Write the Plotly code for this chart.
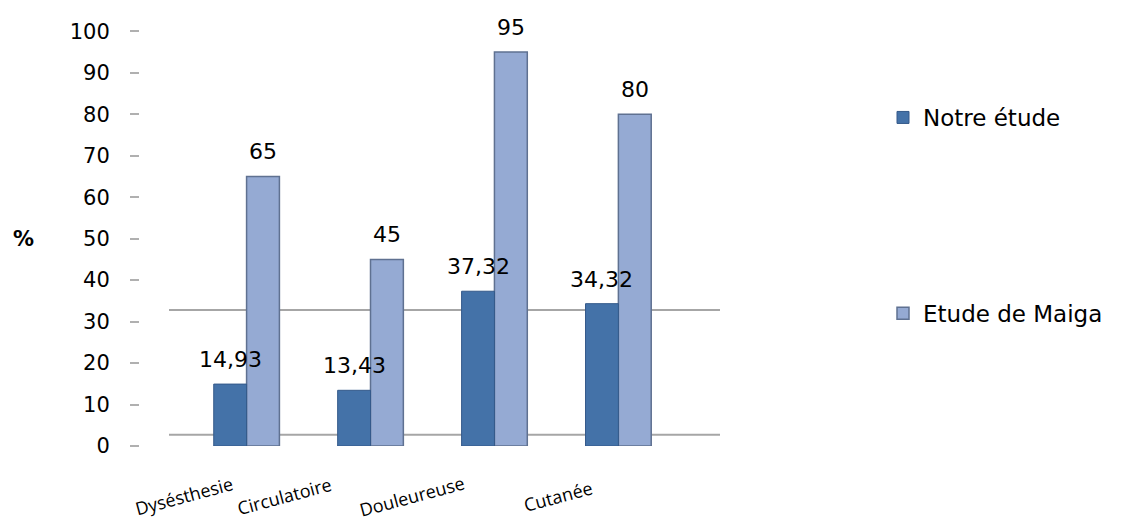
import plotly.graph_objects as go

categories = ["Dysésthesie", "Circulatoire", "Douleureuse", "Cutanée"]
notre_etude = [14.93, 13.43, 37.32, 34.32]
etude_maiga = [65, 45, 95, 80]
y_ticks = [0, 10, 20, 30, 40, 50, 60, 70, 80, 90, 100]
series_names = ["Notre étude", "Etude de Maiga"]
back_wall_levels = [2.7, 32.8]

def fmt(v):
    s = ("%g" % v)
    return s.replace(".", ",")

label_font = dict(family="DejaVu Sans, Liberation Sans", size=22, color="black")
BAR_W = 0.265
CAT_LABEL_SHIFT = [-63, -86, -82, -60]  # pixel offsets of the slanted category labels

fig = go.Figure()
fig.add_trace(go.Bar(
    x=list(range(len(categories))), y=etude_maiga, name=series_names[1],
    width=BAR_W, offset=0,
    marker=dict(color="#95aad3", line=dict(color="#5f7191", width=1.5)),
    legendgroup="b", legendrank=2,
))
fig.add_trace(go.Bar(
    x=list(range(len(categories))), y=notre_etude, name=series_names[0],
    width=BAR_W, offset=-BAR_W,
    marker=dict(color="#4472a8", line=dict(color="#34598a", width=1)),
    legendgroup="a", legendrank=1,
))

# value labels above each bar (drawn above all bars)
for i, c in enumerate(categories):
    for v, dx in ((notre_etude[i], -BAR_W / 2), (etude_maiga[i], BAR_W / 2)):
        fig.add_annotation(text=fmt(v), x=i + dx, y=v, xref="x", yref="y",
                           xanchor="center", yanchor="bottom", yshift=10,
                           showarrow=False, font=label_font)

for lv in back_wall_levels:
    fig.add_shape(type="line", xref="paper", yref="y", x0=0.05, x1=1.0,
                  y0=lv, y1=lv, line=dict(color="#a6a6a6", width=2), layer="below")

# category labels (rotated, drawn slightly left of each group like the original)
for i, c in enumerate(categories):
    fig.add_annotation(text=c, x=i, xref="x", y=0, yref="paper",
                       xanchor="center", yanchor="middle", xshift=CAT_LABEL_SHIFT[i], yshift=-50,
                       textangle=-15, showarrow=False,
                       font=dict(family="Open Sans, sans-serif", size=18, color="black"))

fig.add_annotation(text="<b>%</b>", xref="paper", yref="paper",
                   x=-0.222, y=0.49, showarrow=False,
                   font=dict(family="DejaVu Sans, Liberation Sans", size=21, color="black"))

fig.update_layout(
    width=1131, height=520,
    paper_bgcolor="white", plot_bgcolor="white",
    margin=dict(l=132, r=419, t=15, b=82),
    barmode="overlay",
    font=dict(family="DejaVu Sans, Liberation Sans", color="black"),
    legend=dict(xref="container", yref="container", x=875/1131, y=1-88/520,
                xanchor="left", yanchor="top", tracegroupgap=163,
                traceorder="grouped",
                font=dict(family="DejaVu Sans, Liberation Sans", size=23, color="black"),
                bgcolor="rgba(0,0,0,0)"),
    xaxis=dict(range=[-0.86, 3.82], showgrid=False, showline=False, zeroline=False,
               showticklabels=False, ticks=""),
    yaxis=dict(range=[0, 102], tickvals=y_ticks, showgrid=False, showline=False, zeroline=False,
               ticks="outside", ticklen=9, tickcolor="#b0b0b0", tickwidth=1.5,
               ticklabelstandoff=16,
               tickfont=dict(family="DejaVu Sans, Liberation Sans", size=21, color="black")),
)

fig.write_html("out.html")
